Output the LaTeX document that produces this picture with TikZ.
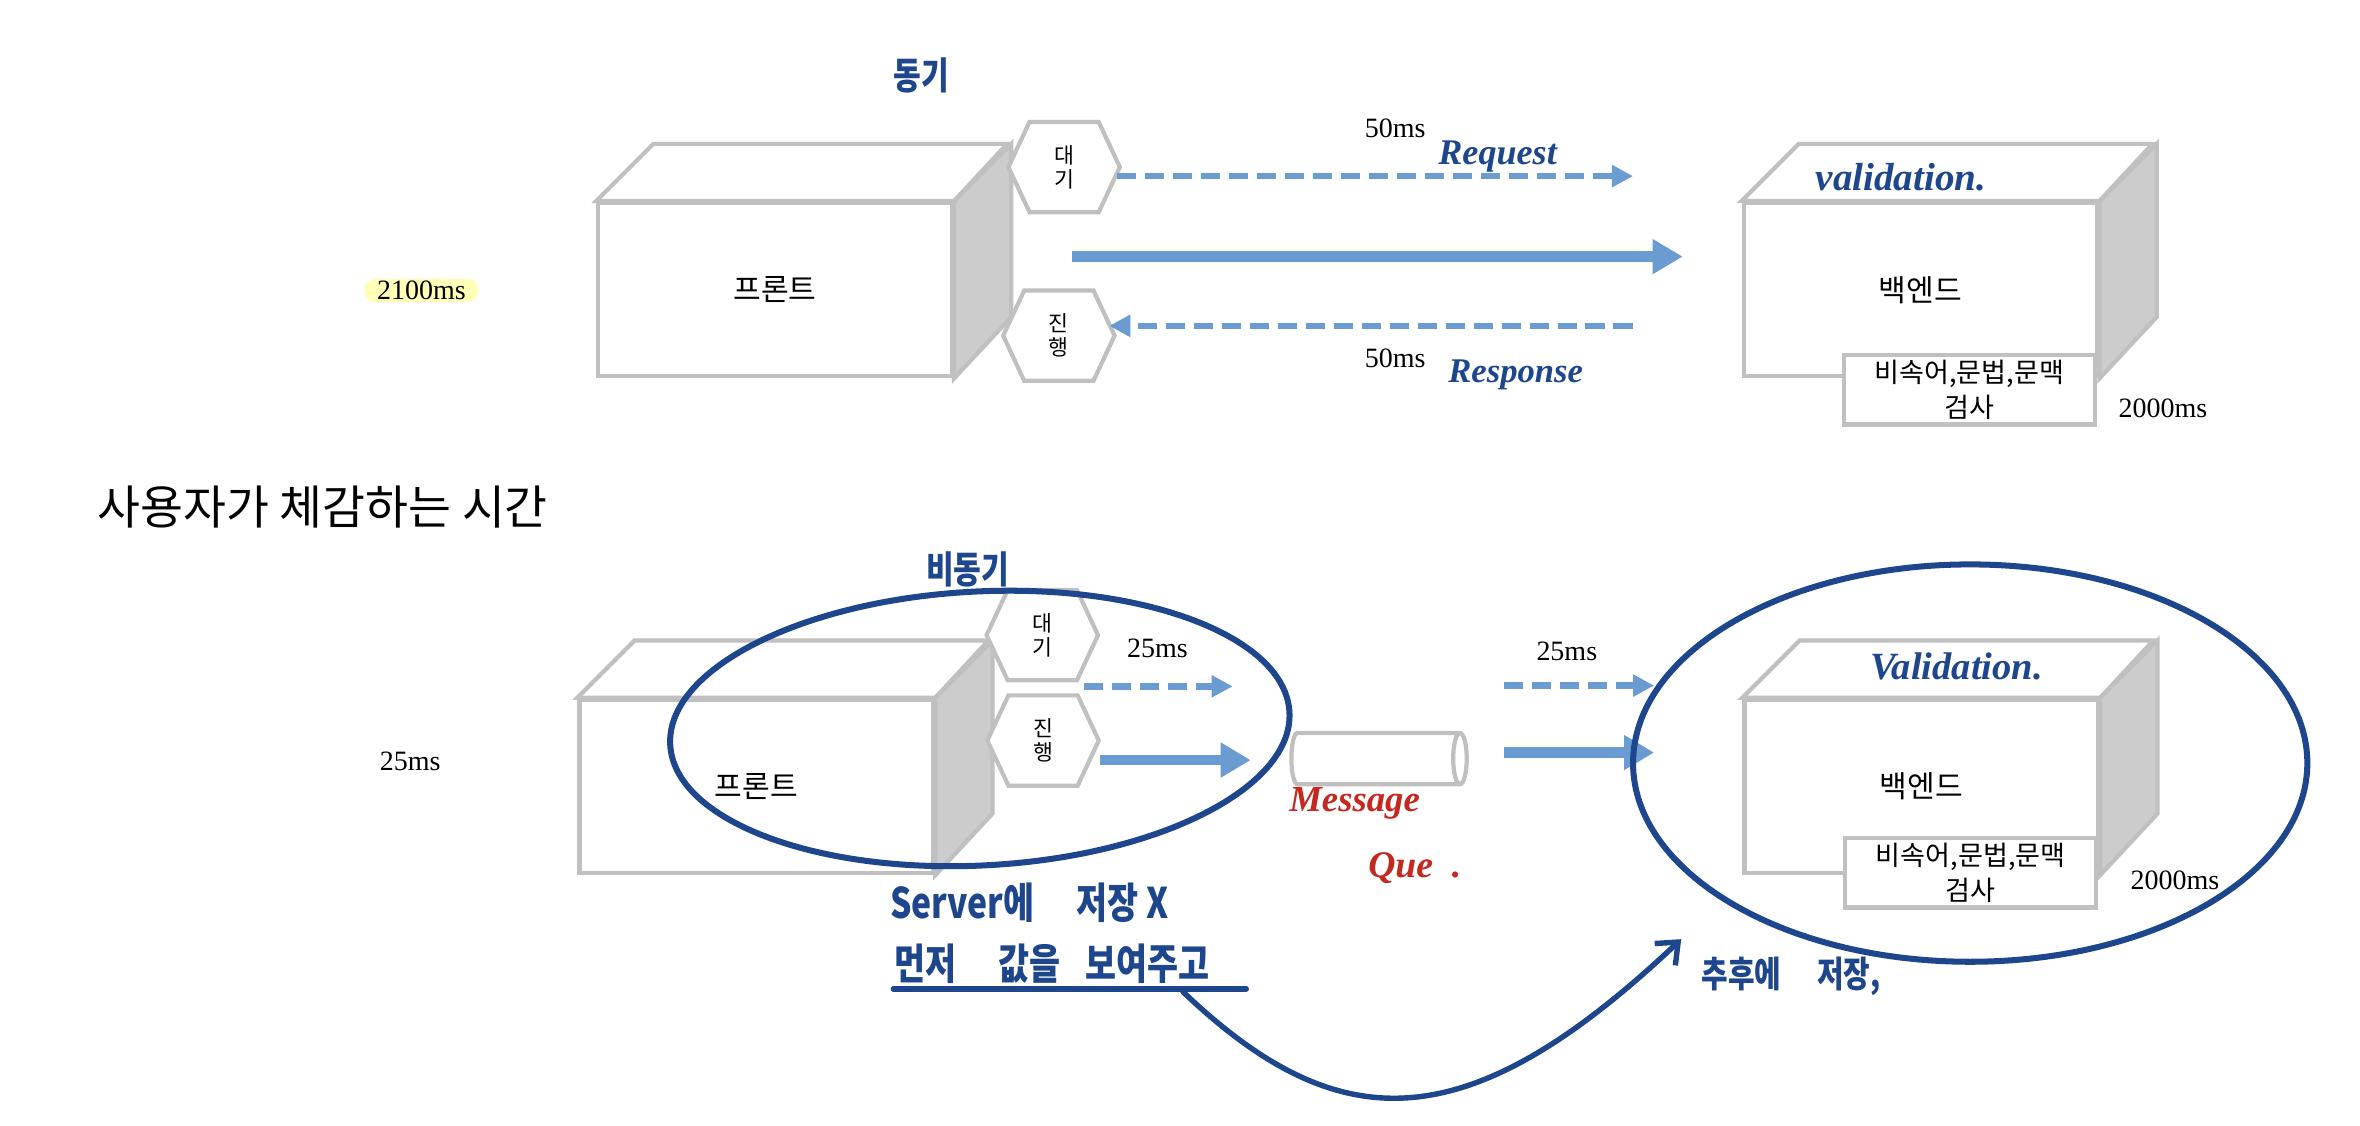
\documentclass[tikz,border=0pt]{standalone}
\usepackage{fontspec}
\setmainfont{Liberation Serif}
\newfontfamily\kr{Noto Sans CJK KR}
\newfontfamily\hand{Noto Sans CJK KR}[FakeStretch=0.8]
\usetikzlibrary{arrows.meta,shapes.geometric}
\definecolor{handblue}{HTML}{1E468C}
\definecolor{arrowblue}{HTML}{6A9BD1}
\definecolor{boxline}{HTML}{C0C0C0}
\definecolor{sidegray}{HTML}{CCCCCC}
\definecolor{handred}{HTML}{C4281E}
\definecolor{hl}{HTML}{FFFFB8}
\newcommand\hexat[3]{%
  \coordinate (#1c) at #2;
  \draw[hexbox] ([shift={(-37,0)}]#1c) -- ([shift={(-23,-30)}]#1c) -- ([shift={(23,-30)}]#1c) -- ([shift={(37,0)}]#1c) -- ([shift={(23,30)}]#1c) -- ([shift={(-23,30)}]#1c) -- cycle;
  \node[hextext] (#1) at (#1c) {#3};
}
\newcommand\cubeat[3]{% name, position, text
  \node[face] (#1) at #2 {#3};
  \draw[topface] (#1.north west) -- ++(38,-38) -- ++(235,0) -- (#1.north east) -- cycle;
  \draw[sideface] (#1.north east) -- ++(38,-38) -- ++(0,115) -- (#1.south east) -- cycle;
}
\begin{document}
\begin{tikzpicture}[x=0.5pt,y=-0.5pt,
  face/.style={draw=boxline, line width=1.4pt, fill=white, minimum width=117.5pt, minimum height=57.5pt, inner sep=0pt, font=\kr\fontsize{10}{12}\selectfont},
  sideface/.style={draw=boxline, line width=1.4pt, fill=sidegray, line join=miter},
  topface/.style={draw=boxline, line width=1.4pt, fill=white},
  hexbox/.style={draw=boxline, line width=1.4pt, fill=white},
  hextext/.style={align=center, inner sep=0pt, font=\kr\fontsize{7.2}{7.9}\selectfont},
  innerbox/.style={draw=boxline, line width=1.4pt, fill=white, minimum width=83.5pt, minimum height=23pt, inner sep=0pt, align=center, font=\kr\fontsize{9}{11.7}\selectfont},
  num/.style={inner sep=0pt, font=\fontsize{9.3}{11}\selectfont},
  dasharrow/.style={draw=arrowblue, line width=2.2pt, dash pattern=on 6.5pt off 2.8pt, -{Triangle[length=7pt,width=7pt]}},
  fatarrow/.style={draw=arrowblue, line width=3.4pt, -{Triangle[length=10pt,width=11pt]}},
  handkr/.style={text=handblue, inner sep=0pt, font=\hand\bfseries\fontsize{12.5}{14}\selectfont},
  handen/.style={text=handblue, inner sep=0pt, font=\bfseries\itshape\fontsize{12}{14}\selectfont},
  ring/.style={draw=handblue, line width=2pt, ellipse, inner sep=0pt},
  handline/.style={draw=handblue, line width=1.8pt, line cap=round},
]
\useasboundingbox[fill=white] (0,0) rectangle (1568,748);

% ---------- top: synchronous ----------
\node[handkr] (sync) at (612,50) {동기};
\cubeat{front1}{(515,192.5)}{프론트}
\hexat{wait1}{(707,111)}{대\\기}
\hexat{run1}{(703.5,223)}{진\\행}

\coordinate (rqs) at (742,117);  \coordinate (rqe) at (1085,117);
\coordinate (fts) at (712,170.5); \coordinate (fte) at (1118,170.5);
\coordinate (rss) at (1085,216.5); \coordinate (rse) at (737,216.5);
\draw[dasharrow] (rqs) -- (rqe);
\draw[fatarrow] (fts) -- (fte);
\draw[dasharrow] (rss) -- (rse);

\node[num] (t50a) at (927,85) {50ms};
\node[num] (t50b) at (927,238) {50ms};
\node[handen] (req) at (995,104) {Request};
\node[handen, font=\bfseries\itshape\fontsize{11.5}{14}\selectfont] (resp) at (1007,249) {Response};

\cubeat{back1}{(1276,192.5)}{백엔드}
\node[handen, font=\bfseries\itshape\fontsize{13}{14}\selectfont] (val1) at (1263,118) {validation.};
\node[innerbox] (chk1) at (1308.5,259) {비속어,문법,문맥\\검사};
\node[num] (t2000a) at (1437,271.5) {2000ms};

\node[num, fill=hl, rounded corners=3.8pt, minimum width=38pt, minimum height=7.75pt] (t2100) at (280,193) {2100ms};

\node[inner sep=0pt, font=\kr\fontsize{15.5}{18}\selectfont] (title) at (214.5,337) {사용자가 체감하는 시간};

% ---------- bottom: asynchronous ----------
\node[handkr] (async) at (643,378) {비동기};
\node[num] (t25a) at (272.5,506) {25ms};
\cubeat{front2}{(502.5,522.5)}{프론트}
\hexat{wait2}{(692.5,422)}{대\\기}
\hexat{run2}{(693,492)}{진\\행}
\node[num] (t25b) at (769,431) {25ms};

\coordinate (ads) at (720,456); \coordinate (ade) at (819,456);
\coordinate (afs) at (731,505); \coordinate (afe) at (831,505);
\draw[dasharrow] (ads) -- (ade);
\draw[fatarrow] (afs) -- (afe);

% message queue
\coordinate (mq) at (915,504);
\draw[draw=boxline, line width=1.4pt, fill=white] (970,487) -- (862,487) arc[start angle=-90, end angle=-270, x radius=4, y radius=17] -- (970,521);
\draw[draw=boxline, line width=1.4pt, fill=white] (970,504) ellipse[x radius=4.5, y radius=17];
\node[handen, text=handred, font=\bfseries\itshape\fontsize{12.2}{14}\selectfont] (msg) at (900,534) {Message};
\node[handen, text=handred, font=\bfseries\itshape\fontsize{12.5}{14}\selectfont] (que) at (940,577) {Que\hspace{0.5em}.};

\coordinate (bds) at (999,455.5); \coordinate (bde) at (1099,455.5);
\coordinate (bfs) at (999,500); \coordinate (bfe) at (1099,500);
\draw[dasharrow] (bds) -- (bde);
\draw[fatarrow] (bfs) -- (bfe);
\node[num] (t25c) at (1041,433) {25ms};

\cubeat{back2}{(1276.5,522.5)}{백엔드}
\node[handen, font=\bfseries\itshape\fontsize{12.8}{14}\selectfont] (val2) at (1300,443) {Validation.};
\node[innerbox] (chk2) at (1309.3,580) {비속어,문법,문맥\\검사};
\node[num] (t2000b) at (1445,585) {2000ms};

% rings
\node[ring, minimum width=206pt, minimum height=91pt, rotate=3] (ring1) at (651,484) {};
\node[ring, minimum width=224pt, minimum height=132pt] (ring2) at (1309,507) {};

% notes
\node[handkr, font=\hand\bfseries\fontsize{14}{16}\selectfont] (srv) at (684,600) {Server에\hspace{1em}저장 X};
\node[handkr, font=\hand\bfseries\fontsize{14}{16}\selectfont] (first) at (699,640) {먼저\hspace{1em}값을\hspace{0.6em}보여주고};
\coordinate (ul1) at (593.5,657); \coordinate (ul2) at (828,657);
\draw[handline] (ul1) -- (ul2);
\coordinate (cs) at (786,659); \coordinate (ce) at (1117,624);
\draw[handline, -{Straight Barb[length=6pt,width=10pt]}] (cs) .. controls (890,758) and (975,758) .. (ce);
\node[handkr, font=\hand\bfseries\fontsize{12}{14}\selectfont] (later) at (1190,649) {추후에\hspace{1em}저장,};
\end{tikzpicture}
\end{document}
